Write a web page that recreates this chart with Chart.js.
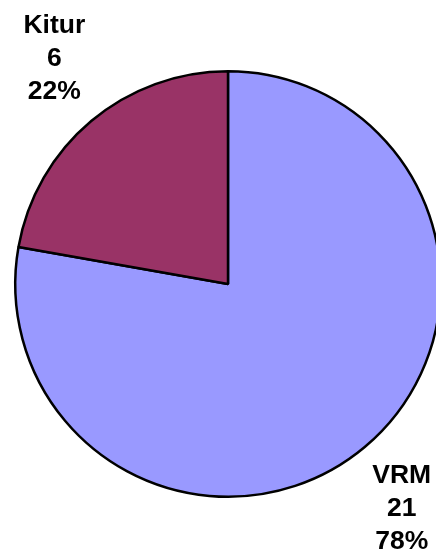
<!DOCTYPE html>
<html>
<head>
<meta charset="utf-8">
<script src="https://cdn.jsdelivr.net/npm/chart.js@4/dist/chart.umd.min.js"></script>
<style>
  html, body { margin: 0; padding: 0; background: #fff; overflow: hidden; }
  #wrap { width: 436px; height: 559px; overflow: hidden; }
</style>
</head>
<body>
<div id="wrap"><canvas id="pie" width="456" height="559"></canvas></div>
<script>
const categorias = ["VRM", "Kitur"];
const valores = [21, 6];
const cores = ["#9999FF", "#993366"];

// rótulos fora da pizza: nome, valor e percentual
const rotulosFora = {
  id: "rotulosFora",
  afterDraw(chart) {
    const ctx = chart.ctx;
    const meta = chart.getDatasetMeta(0);
    const total = valores.reduce((a, b) => a + b, 0);
    ctx.save();
    ctx.font = "bold 26.5px 'Liberation Sans', Arial, sans-serif";
    ctx.fillStyle = "#000";
    ctx.textAlign = "center";
    ctx.textBaseline = "middle";
    meta.data.forEach((arc, i) => {
      const meio = (arc.startAngle + arc.endAngle) / 2;
      const x = arc.x + Math.cos(meio) * arc.outerRadius * 1.27;
      const y = arc.y + Math.sin(meio) * arc.outerRadius * 1.38;
      const linhas = [categorias[i], String(valores[i]), Math.round(valores[i] / total * 100) + "%"];
      const alt = 33;
      linhas.forEach((t, k) => {
        ctx.fillText(t, x, y + (k - 1) * alt);
      });
    });
    ctx.restore();
  }
};

new Chart(document.getElementById("pie").getContext("2d"), {
  type: "pie",
  data: {
    labels: categorias,
    datasets: [{
      data: valores,
      backgroundColor: cores,
      borderColor: "#000",
      borderWidth: 2.5
    }]
  },
  options: {
    responsive: false,
    animation: false,
    layout: { padding: { left: 14, right: 14, top: 70, bottom: 61 } },
    plugins: {
      legend: { display: false },
      tooltip: { enabled: false }
    }
  },
  plugins: [rotulosFora]
});
</script>
</body>
</html>
